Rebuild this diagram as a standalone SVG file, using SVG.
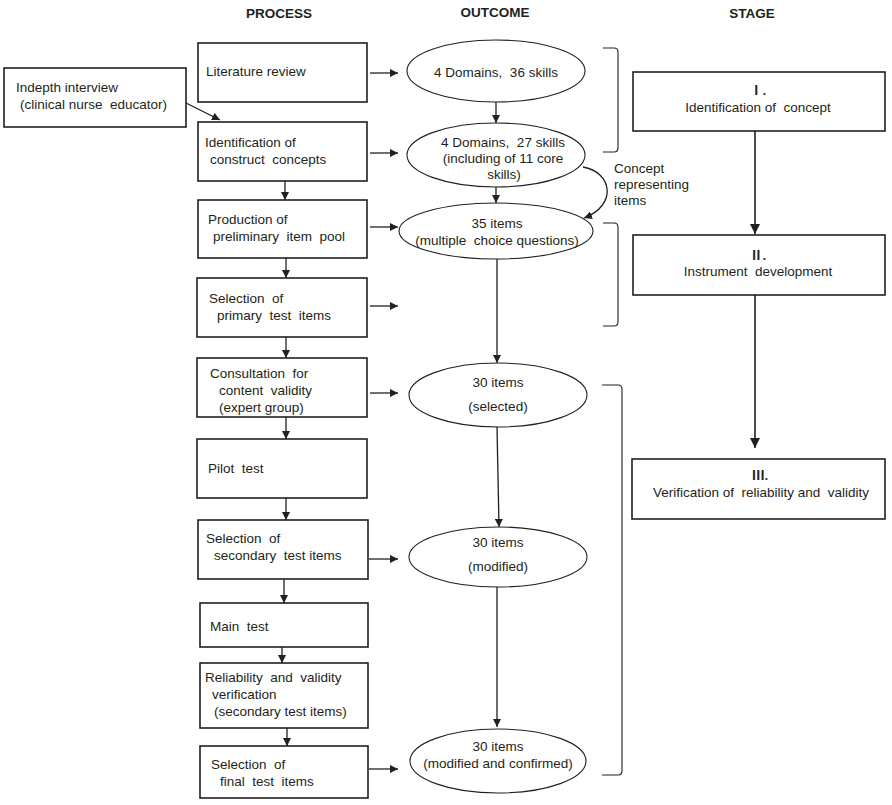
<svg xmlns="http://www.w3.org/2000/svg" width="892" height="805" viewBox="0 0 892 805">
<defs>
<marker id="ah" viewBox="0 0 10 10" refX="10" refY="5" markerWidth="8" markerHeight="8" markerUnits="userSpaceOnUse" orient="auto">
<path d="M0,0 L10,5 L0,10 z" fill="#231f20"/>
</marker>
<marker id="ahb" viewBox="0 0 10 10" refX="10" refY="5" markerWidth="10" markerHeight="10" markerUnits="userSpaceOnUse" orient="auto">
<path d="M0,0 L10,5 L0,10 z" fill="#231f20"/>
</marker>
</defs>
<style>
rect{fill:#fff;stroke:#231f20;stroke-width:1.6}
ellipse{fill:#fff;stroke:#231f20;stroke-width:1.1}
text{font-family:"Liberation Sans",Arial,sans-serif;font-size:13.5px;fill:#231f20;white-space:pre}
.h{font-weight:bold;font-size:13.5px;text-anchor:middle}
.c{text-anchor:middle}
.r{font-family:"Liberation Serif","Noto Sans CJK KR",serif;font-weight:bold;font-size:13px;text-anchor:middle}
.a{stroke:#231f20;stroke-width:1.3;fill:none;marker-end:url(#ah)}
.b{stroke:#231f20;stroke-width:1.6;fill:none;marker-end:url(#ahb)}
.k{stroke:#231f20;stroke-width:1.1;fill:none}
</style>
<rect x="0" y="0" width="892" height="805" style="fill:#fff;stroke:none"/>

<g id="headers">
<text class="h" x="279" y="18">PROCESS</text>
<text class="h" x="495" y="17">OUTCOME</text>
<text class="h" x="752" y="18">STAGE</text>
</g>

<g id="p-interview"><rect x="4" y="68" width="182" height="59"/>
<text x="16" y="92">Indepth interview</text><text x="20" y="109" xml:space="preserve">(clinical nurse  educator)</text></g>
<g id="p-literature"><rect x="198" y="43" width="169" height="59"/>
<text x="206" y="76">Literature review</text></g>
<g id="p-identification"><rect x="198" y="122" width="169" height="59"/>
<text x="205" y="147">Identification of</text><text x="210" y="164" xml:space="preserve">construct  concepts</text></g>
<g id="p-production"><rect x="198" y="200" width="169" height="58"/>
<text x="208" y="224">Production of</text><text x="213" y="241" xml:space="preserve">preliminary  item  pool</text></g>
<g id="p-primary"><rect x="197" y="278" width="170" height="59"/>
<text x="209" y="303" xml:space="preserve">Selection  of</text><text x="217" y="320" xml:space="preserve">primary  test  items</text></g>
<g id="p-consultation"><rect x="197" y="358" width="170" height="59"/>
<text x="210" y="378" xml:space="preserve">Consultation  for</text><text x="219" y="395" xml:space="preserve">content  validity</text><text x="219" y="412">(expert group)</text></g>
<g id="p-pilot"><rect x="197" y="439" width="170" height="59"/>
<text x="208" y="473" xml:space="preserve">Pilot  test</text></g>
<g id="p-secondary"><rect x="198" y="520" width="170" height="59"/>
<text x="206" y="543" xml:space="preserve">Selection  of</text><text x="214" y="560" xml:space="preserve">secondary  test items</text></g>
<g id="p-main"><rect x="200" y="603" width="168" height="44"/>
<text x="210" y="631" xml:space="preserve">Main  test</text></g>
<g id="p-reliability"><rect x="200" y="663" width="168" height="65"/>
<text x="205" y="682" xml:space="preserve">Reliability  and  validity</text><text x="212" y="699">verification</text><text x="214" y="716">(secondary test items)</text></g>
<g id="p-final"><rect x="200" y="746" width="168" height="52"/>
<text x="211" y="769" xml:space="preserve">Selection  of</text><text x="220" y="786" xml:space="preserve">final  test  items</text></g>

<g id="o-1"><ellipse cx="496" cy="71" rx="89" ry="31"/>
<text class="c" x="496" y="77" xml:space="preserve">4 Domains,  36 skills</text></g>
<g id="o-2"><ellipse cx="496" cy="155" rx="89" ry="32"/>
<text class="c" x="503" y="147" xml:space="preserve">4 Domains,  27 skills</text><text class="c" x="503" y="163">(including of 11 core</text><text class="c" x="504" y="179">skills)</text></g>
<g id="o-3"><ellipse cx="496" cy="231" rx="97" ry="28"/>
<text class="c" x="497" y="228">35 items</text><text class="c" x="497" y="245" xml:space="preserve">(multiple  choice questions)</text></g>
<g id="o-4"><ellipse cx="498" cy="395" rx="89" ry="32"/>
<text class="c" x="498" y="387">30 items</text><text class="c" x="498" y="411">(selected)</text></g>
<g id="o-5"><ellipse cx="498" cy="557" rx="89" ry="30"/>
<text class="c" x="498" y="547">30 items</text><text class="c" x="498" y="571">(modified)</text></g>
<g id="o-6"><ellipse cx="498" cy="761" rx="88" ry="32"/>
<text class="c" x="498" y="751">30 items</text><text class="c" x="498" y="768">(modified and confirmed)</text></g>

<g id="s-1"><rect x="633" y="72" width="252" height="59"/>
<text class="r" x="758" y="95">Ⅰ.</text><text class="c" x="758" y="112" xml:space="preserve">Identification of  concept</text></g>
<g id="s-2"><rect x="633" y="235" width="252" height="60"/>
<text class="r" x="758" y="260">Ⅱ.</text><text class="c" x="758" y="276" xml:space="preserve">Instrument  development</text></g>
<g id="s-3"><rect x="632" y="459" width="253" height="60"/>
<text class="r" x="760" y="480">Ⅲ.</text><text class="c" x="761" y="497" xml:space="preserve">Verification of  reliability and  validity</text></g>

<g id="label-concept">
<text x="614" y="173">Concept</text><text x="614" y="189">representing</text><text x="614" y="205">items</text>
</g>

<g id="brackets">
<path class="k" d="M603,48 L614,48 Q618,48 618,52 L618,148 Q618,152 614,152 L603,152"/>
<path class="k" d="M603,223 L614,223 Q618,223 618,227 L618,322 Q618,326 614,326 L603,326"/>
<path class="k" d="M602,385 L618,385 Q622,385 622,389 L622,771 Q622,775 618,775 L602,775"/>
</g>

<g id="connectors">
<path class="a" d="M186,103 L220,120"/>
<path class="a" d="M370,73 L398,73"/>
<path class="a" d="M370,153 L398,153"/>
<path class="a" d="M370,227 L398,227"/>
<path class="a" d="M370,306 L398,306"/>
<path class="a" d="M370,393 L398,393"/>
<path class="a" d="M369,559 L398,559"/>
<path class="a" d="M369,769 L398,769"/>
<path class="a" d="M285,181 L285,200"/>
<path class="a" d="M286,258 L286,278"/>
<path class="a" d="M286,337 L286,358"/>
<path class="a" d="M286,417 L286,439"/>
<path class="a" d="M286,498 L286,520"/>
<path class="a" d="M284,579 L284,603"/>
<path class="a" d="M282,647 L282,663"/>
<path class="a" d="M287,728 L287,746"/>
<path class="a" d="M496,102 L496,123"/>
<path class="a" d="M496,187 L496,203"/>
<path class="a" d="M497,259 L497,363"/>
<path class="a" d="M497,427 L499,527"/>
<path class="a" d="M497,587 L497,727"/>
<path class="a" d="M583,167 C612,172 618,205 584,218"/>
<path class="b" d="M755,131 L755,234"/>
<path class="b" d="M755,295 L755,448"/>
</g>
</svg>
